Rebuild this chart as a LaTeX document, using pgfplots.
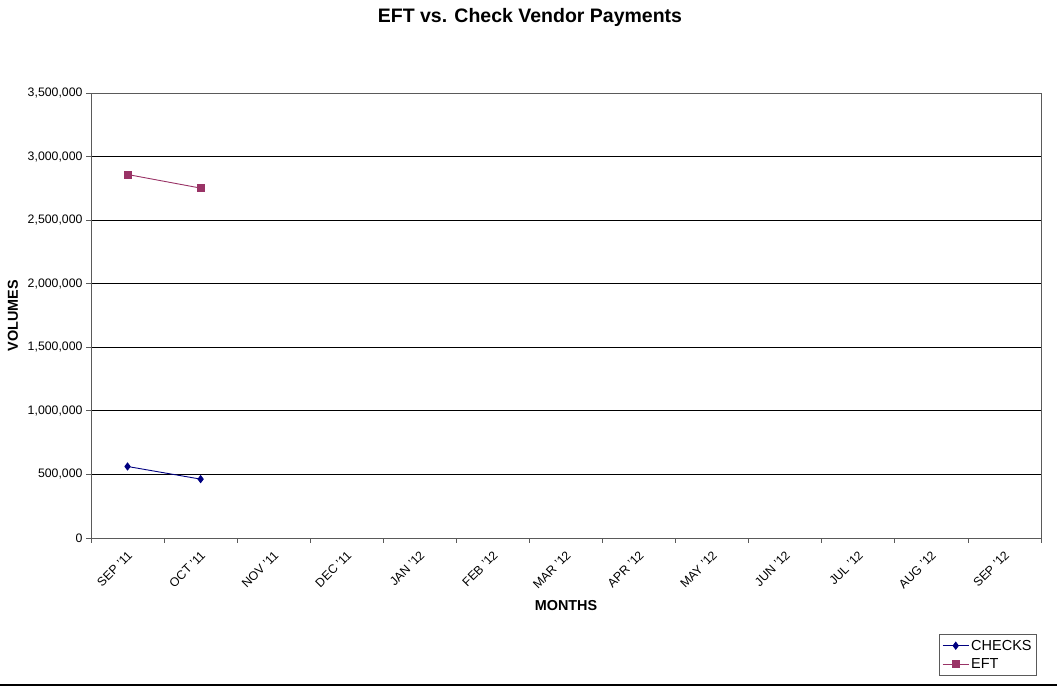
\documentclass[border=0pt]{standalone}
\usepackage{pgfplots}
\pgfplotsset{compat=1.18}
\usepackage{fontspec}
\setmainfont{Liberation Sans}
\definecolor{checks}{RGB}{0,0,128}
\definecolor{eft}{RGB}{153,51,102}
\definecolor{axgray}{RGB}{90,90,90}
\begin{document}
\begin{tikzpicture}[x=1pt,y=1pt]
\path[use as bounding box] (0,0) rectangle (1057,687);
\node[font=\fontsize{19.5}{22}\selectfont\bfseries, anchor=base, inner sep=0pt] at (530,664.3) {EFT vs. Check Vendor Payments};
\begin{axis}[
  at={(91pt,149pt)}, anchor=south west,
  width=950pt, height=445pt, scale only axis,
  xmin=-0.5, xmax=12.5, ymin=0, ymax=3500000,
  xtick={0,...,12},
  xticklabels={SEP '11, OCT '11, NOV '11, DEC '11, JAN '12, FEB '12, MAR '12, APR '12, MAY '12, JUN '12, JUL '12, AUG '12, SEP '12},
  major x tick style={draw=none},
  minor xtick={-0.5,0.5,...,12.5},
  minor x tick style={axgray, line width=0.8pt},
  minor tick length=5pt,
  major tick length=5pt,
  tick align=outside,
  tick pos=left,
  ytick={0,500000,...,3500000},
  ytick style={axgray, line width=0.8pt},
  ymajorgrids,
  grid style={black, line width=0.8pt},
  axis line style={axgray, line width=0.8pt},
  scaled y ticks=false,
  /pgf/number format/assume math mode=true,
  yticklabel style={/pgf/number format/fixed, /pgf/number format/1000 sep={,}},
  tick label style={font=\fontsize{12.3}{14}\selectfont},
  xticklabel style={rotate=45, anchor=east, xshift=-2pt, yshift=-9pt},
  xlabel={MONTHS},
  ylabel={VOLUMES},
  xlabel style={font=\fontsize{14.4}{16}\selectfont\bfseries, at={(axis description cs:0.5,-0.1528)}, anchor=center},
  ylabel style={font=\fontsize{14.4}{16}\selectfont\bfseries, at={(axis description cs:-0.0823,0.5)}, anchor=center, rotate=0},
  legend style={at={(1,0)}, anchor=north east, xshift=-4pt, yshift=-96pt, font=\fontsize{14.5}{16}\selectfont, draw=axgray, line width=0.8pt, inner xsep=3pt, inner ysep=3.5pt, row sep=3pt},
  legend image code/.code={\draw[mark repeat=2,mark phase=2] plot coordinates {(0pt,0pt) (13pt,0pt) (26pt,0pt)};},
  legend cell align=left,
]
\addplot[checks, line width=0.9pt, mark=diamond*, mark size=3.5pt] coordinates {(0,562500) (1,463000)};
\addlegendentry{CHECKS}
\addplot[eft, line width=0.9pt, mark=square*, mark size=3.5pt] coordinates {(0,2859000) (1,2752000)};
\addlegendentry{EFT}
\end{axis}
\draw[line width=1.5pt] (0,2) -- (1057,2);
\end{tikzpicture}
\end{document}
